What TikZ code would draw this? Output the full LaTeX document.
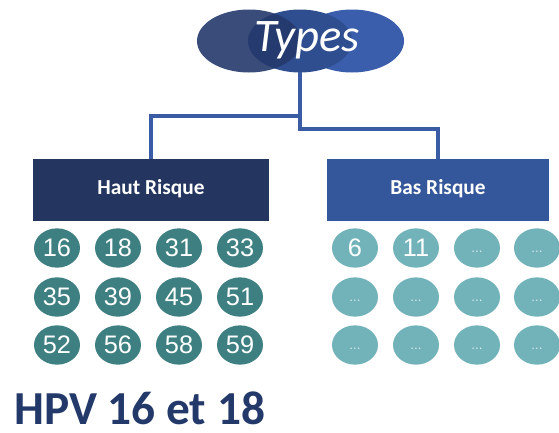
\documentclass[tikz,border=0pt]{standalone}
\usetikzlibrary{shapes.geometric}
\usepackage{fontspec}
\setmainfont{Carlito}
\newfontfamily\arialf{Liberation Sans}
\definecolor{ellA}{HTML}{24396C}
\definecolor{ellB}{HTML}{2F4E90}
\definecolor{ellC}{HTML}{3A5EAB}
\definecolor{conn}{HTML}{3A5CA5}
\definecolor{hautc}{HTML}{24365F}
\definecolor{basc}{HTML}{34569A}
\definecolor{tealD}{HTML}{3E7F82}
\definecolor{tealL}{HTML}{72B3BA}
\definecolor{hpvc}{HTML}{22396A}
\begin{document}
\begin{tikzpicture}[x=0.75pt,y=-0.75pt,
  catbox/.style={minimum height=46.5pt,inner sep=0pt,text=white,font=\fontsize{16}{18}\selectfont\bfseries},
  dotH/.style={ellipse,fill=tealD,minimum width=34.5pt,minimum height=29.5pt,inner sep=0pt,text=white,font=\arialf\fontsize{19}{20}\selectfont},
  dotL/.style={ellipse,fill=tealL,minimum width=34.5pt,minimum height=29.5pt,inner sep=0pt,text=white,font=\arialf\fontsize{19}{20}\selectfont},
  dotE/.style={dotL,text=white!70!tealL,font=\arialf\fontsize{10}{11}\selectfont},
  link/.style={draw=conn,line width=3pt}]
\useasboundingbox (0,0) rectangle (559,432);
% title ellipses
\fill[ellC] (352,41) ellipse [x radius=52, y radius=31.5];
\fill[ellB] (300,41) ellipse [x radius=52, y radius=31.5];
\fill[ellA,fill opacity=0.9] (249,41) ellipse [x radius=52, y radius=31.5];
\node[inner sep=0pt,text=white,font=\fontsize{35}{37}\selectfont\itshape] (types) at (307,40) {Types};
\coordinate (tbot) at (300,72);
\coordinate (jL) at (300,116);
\coordinate (jR) at (300,129);
% boxes
\node[catbox,fill=hautc,minimum width=177pt] (haut) at (151,190) {\raisebox{4pt}{Haut Risque}};
\node[catbox,fill=basc,minimum width=166.5pt] (bas) at (438,190) {\raisebox{4pt}{Bas Risque}};
\draw[link] (tbot) -- (jR) -| (bas.north);
\draw[link] (jL) -| (haut.north);
% high risk
\node[dotH] (h1) at (57,248) {16};
\node[dotH] (h2) at (118,248) {18};
\node[dotH] (h3) at (179,248) {31};
\node[dotH] (h4) at (240,248) {33};
\node[dotH] (h5) at (57,297) {35};
\node[dotH] (h6) at (118,297) {39};
\node[dotH] (h7) at (179,297) {45};
\node[dotH] (h8) at (240,297) {51};
\node[dotH] (h9) at (57,345) {52};
\node[dotH] (h10) at (118,345) {56};
\node[dotH] (h11) at (179,345) {58};
\node[dotH] (h12) at (240,345) {59};
% low risk
\node[dotL] (l1) at (355,248) {6};
\node[dotL] (l2) at (416,248) {11};
\node[dotE] (l3) at (477,248) {\raisebox{-6pt}{...}};
\node[dotE] (l4) at (537,248) {\raisebox{-6pt}{...}};
\node[dotE] (l5) at (355,297) {\raisebox{-6pt}{...}};
\node[dotE] (l6) at (416,297) {\raisebox{-6pt}{...}};
\node[dotE] (l7) at (477,297) {\raisebox{-6pt}{...}};
\node[dotE] (l8) at (537,297) {\raisebox{-6pt}{...}};
\node[dotE] (l9) at (355,345) {\raisebox{-6pt}{...}};
\node[dotE] (l10) at (416,345) {\raisebox{-6pt}{...}};
\node[dotE] (l11) at (477,345) {\raisebox{-6pt}{...}};
\node[dotE] (l12) at (537,345) {\raisebox{-6pt}{...}};
% caption
\node[anchor=base west,inner sep=0pt,text depth=0pt,text=hpvc,font=\fontsize{35.5}{38}\selectfont\bfseries] (hpv) at (14,424) {HPV 16 et 18};
\end{tikzpicture}
\end{document}
